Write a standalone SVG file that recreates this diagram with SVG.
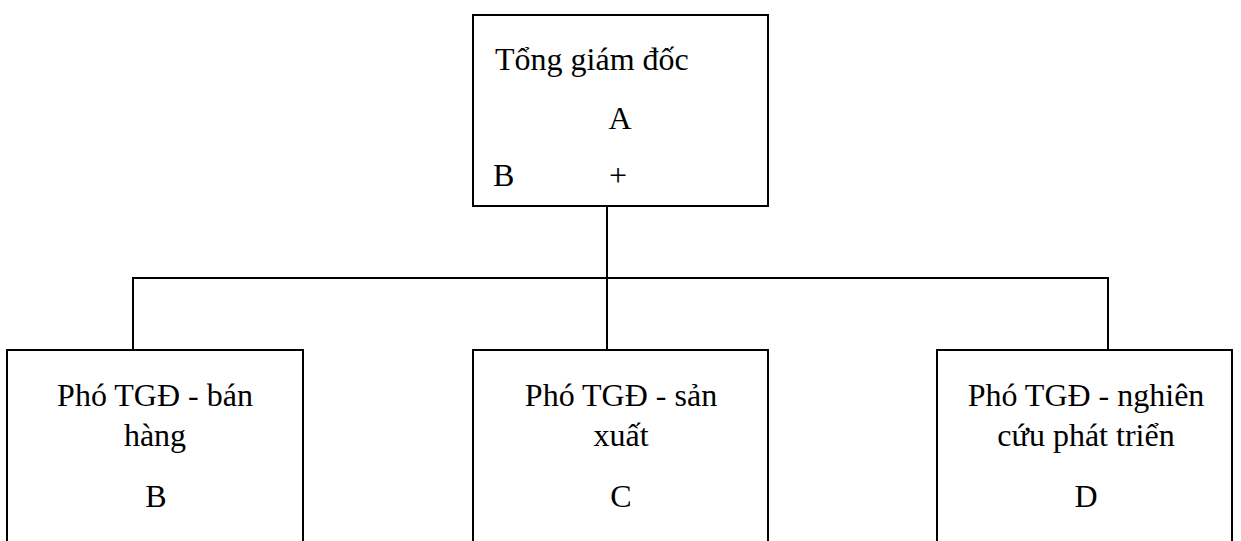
<svg xmlns="http://www.w3.org/2000/svg" width="1241" height="541" viewBox="0 0 1241 541">
  <style>
    .box { fill: #ffffff; stroke: #000000; stroke-width: 2; }
    .link { fill: none; stroke: #000000; stroke-width: 2; }
    text { font-family: "Liberation Serif", "Times New Roman", serif; font-size: 32px; fill: #000000; }
    .c { text-anchor: middle; }
  </style>
  <rect width="1241" height="541" fill="#ffffff"/>

  <!-- connectors -->
  <g id="connectors">
    <line class="link" x1="607" y1="206" x2="607" y2="350"/>
    <line class="link" x1="133" y1="278" x2="1108" y2="278"/>
    <line class="link" x1="133" y1="277" x2="133" y2="350"/>
    <line class="link" x1="1108" y1="277" x2="1108" y2="350"/>
  </g>

  <!-- general director -->
  <g id="node-a">
    <rect class="box" x="473" y="15" width="295" height="191"/>
    <text x="495" y="70">Tổng giám đốc</text>
    <text x="620" y="129" class="c">A</text>
    <text x="493" y="186">B</text>
    <text x="618" y="186" class="c">+</text>
  </g>

  <!-- deputy: sales -->
  <g id="node-b">
    <rect class="box" x="7" y="350" width="296" height="200"/>
    <text x="155" y="406" class="c">Phó TGĐ - bán</text>
    <text x="155" y="446" class="c">hàng</text>
    <text x="156" y="507" class="c">B</text>
  </g>

  <!-- deputy: production -->
  <g id="node-c">
    <rect class="box" x="473" y="350" width="295" height="200"/>
    <text x="621" y="406" class="c">Phó TGĐ - sản</text>
    <text x="621" y="446" class="c">xuất</text>
    <text x="621" y="507" class="c">C</text>
  </g>

  <!-- deputy: research and development -->
  <g id="node-d">
    <rect class="box" x="937" y="350" width="295" height="200"/>
    <text x="1086" y="406" class="c">Phó TGĐ - nghiên</text>
    <text x="1086" y="446" class="c">cứu phát triển</text>
    <text x="1086" y="507" class="c">D</text>
  </g>
</svg>
